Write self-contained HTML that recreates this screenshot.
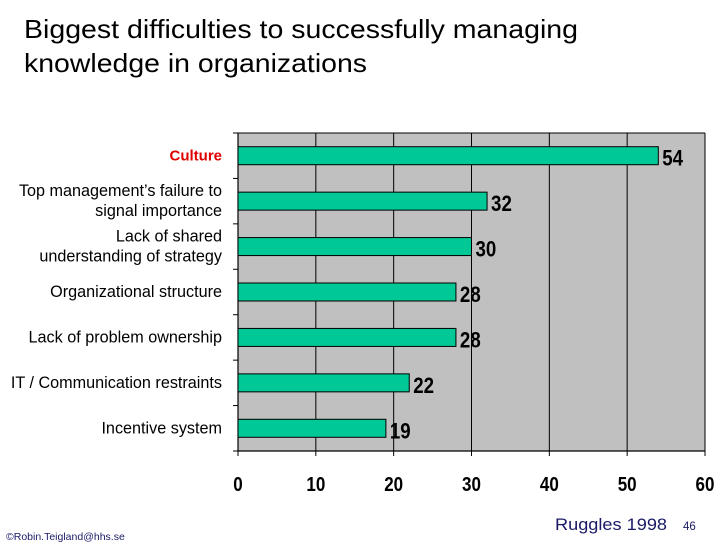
<!DOCTYPE html>
<html><head><meta charset="utf-8"><style>
html,body{margin:0;padding:0;background:#fff;}
svg{display:block;font-family:"Liberation Sans",Arial,sans-serif;}
</style></head><body>
<svg width="728" height="546" viewBox="0 0 728 546">
<text x="24" y="38" font-size="26" fill="#000" textLength="554" lengthAdjust="spacingAndGlyphs">Biggest difficulties to successfully managing</text>
<text x="24" y="72" font-size="26" fill="#000" textLength="343" lengthAdjust="spacingAndGlyphs">knowledge in organizations</text>
<g id="plot"></g>
<text x="6" y="540" font-size="10.5" fill="#1a1a66">©Robin.Teigland@hhs.se</text>
<text x="555" y="530" font-size="16.5" fill="#1a1a66" textLength="112" lengthAdjust="spacingAndGlyphs">Ruggles 1998</text>
<text x="683" y="530" font-size="11.5" fill="#1a1a66">46</text>
</svg>
<script>
const categories=[["Culture"],["Top management’s failure to","signal importance"],["Lack of shared","understanding of strategy"],["Organizational structure"],["Lack of problem ownership"],["IT / Communication restraints"],["Incentive system"]];
const values=[54,32,30,28,28,22,19];
const ticks=[0,10,20,30,40,50,60];
const NS="http://www.w3.org/2000/svg";
const g=document.getElementById('plot');
const L=238,R=705,T=133,B=451,MAX=60;
const x=v=>L+(v/MAX)*(R-L);
const band=(B-T)/categories.length;
const y=i=>T+i*band;
function mk(tag,attrs,parent){const e=document.createElementNS(NS,tag);for(const k in attrs)e.setAttribute(k,attrs[k]);(parent||g).appendChild(e);return e;}
let bg=mk('rect',{x:L,y:T,width:R-L,height:B-T,fill:'#c0c0c0'});


ticks.forEach(t=>{
  let gl=mk('line',{x1:x(t),x2:x(t),y1:T,y2:B+5,stroke:'#000','stroke-width':1});
  
  
  let tl=mk('text',{x:x(t),y:491,'text-anchor':'middle','font-size':20,'font-weight':'bold'});
  
  
  tl.setAttribute('transform',`translate(${x(t)},0) scale(0.85,1) translate(${-x(t)},0)`);
  tl.textContent=t;
});
mk('line',{x1:L,x2:R,y1:T,y2:T,stroke:'#000','stroke-width':1});
mk('line',{x1:L,x2:R,y1:B,y2:B,stroke:'#000','stroke-width':1.2});
mk('line',{x1:L,x2:L,y1:T,y2:B,stroke:'#000','stroke-width':1.2});
for(let i=0;i<=categories.length;i++){mk('line',{x1:L-5,x2:L,y1:y(i),y2:y(i),stroke:'#000','stroke-width':1});}
categories.forEach((c,i)=>{
  const cy=y(i)+band/2;
  let b=mk('rect',{x:L,y:cy-9,width:x(values[i])-L,height:18,fill:'#00c896',stroke:'#000','stroke-width':1});
  
  
  const vx=x(values[i])+4;
  let vl=mk('text',{x:vx,y:cy+10,'font-size':22,'font-weight':'bold'});
  
  
  vl.setAttribute('transform',`translate(${vx},0) scale(0.85,1) translate(${-vx},0)`);
  vl.textContent=values[i];
  const red=i===0;
  c.forEach((line,j)=>{
    const ly=cy+5+(j-(c.length-1)/2)*20;
    let t=mk('text',{x:222,y:ly,'text-anchor':'end','font-size':red?15:16.2,fill:red?'#e00000':'#000','font-weight':red?'bold':'normal'});
    
    
    t.textContent=line;
  });
});
</script>
</body></html>
